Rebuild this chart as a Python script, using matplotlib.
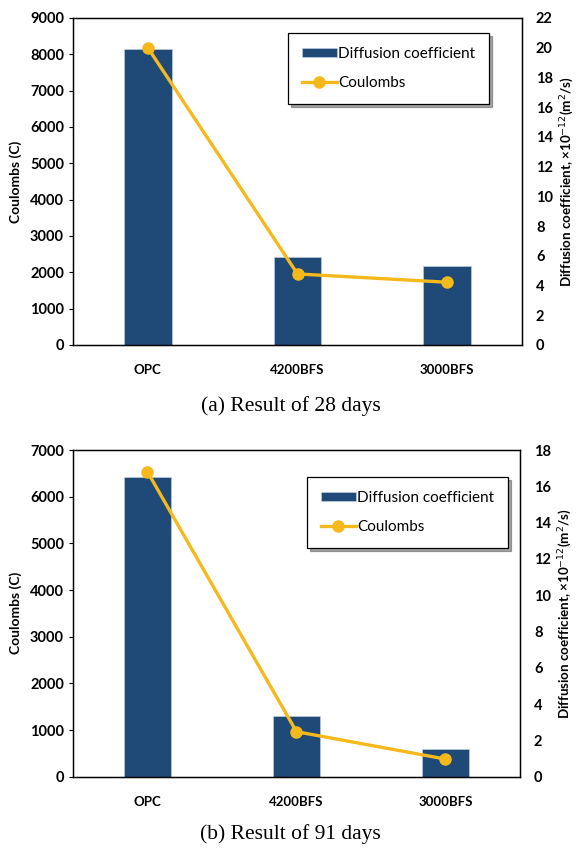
import matplotlib.pyplot as plt

plt.rcParams['font.family'] = ['Lato', 'DejaVu Sans']

categories = ['OPC', '4200BFS', '3000BFS']

# 28 days
bars_28 = [8140, 2430, 2180]
line_28 = [20.0, 4.78, 4.22]
# 91 days
bars_91 = [6430, 1290, 600]
line_91 = [16.8, 2.48, 0.97]

bar_color = '#1F4A78'
line_color = '#F5B91C'

fig = plt.figure(figsize=(5.81, 8.52), dpi=100)


def panel(rect, bars, line, ymax_l, ymax_r, leg_anchor, caption, cap_y):
    ax = fig.add_axes(rect)
    x = range(len(categories))
    b = ax.bar(x, bars, width=0.32, color=bar_color, edgecolor='#c8d4e4', linewidth=0.4,
               zorder=2, label='Diffusion coefficient')
    ax.set_xlim(-0.5, 2.5)
    ax.set_ylim(0, ymax_l)
    ax.set_yticks(range(0, ymax_l + 1, 1000))
    ax.set_xticks(list(x))
    ax.set_xticklabels(categories, fontweight='bold', fontsize=9.5)
    ax.tick_params(axis='x', length=0, pad=14)
    ax.tick_params(axis='y', length=3, width=0.8, labelsize=10.5, direction='out')
    for t in ax.get_yticklabels():
        t.set_fontweight('bold')
    ax.set_ylabel('Coulombs (C)', fontweight='bold', fontsize=10, labelpad=6)
    for s in ax.spines.values():
        s.set_linewidth(1.0)

    ax2 = ax.twinx()
    ln, = ax2.plot(x, line, color=line_color, lw=2.4, marker='o', ms=8,
                   zorder=3, label='Coulombs')
    ax2.set_ylim(0, ymax_r)
    ax2.set_yticks(range(0, ymax_r + 1, 2))
    ax2.tick_params(axis='y', length=0, labelsize=10.5, pad=10)
    for t in ax2.get_yticklabels():
        t.set_fontweight('bold')
    ax2.set_ylabel('Diffusion coefficient, ×10$^{-12}$(m$^2$/s)', fontweight='bold',
                   fontsize=9.6, labelpad=4)

    leg = ax2.legend([b, ln], ['Diffusion coefficient', 'Coulombs'], loc='upper left',
                     bbox_to_anchor=leg_anchor, borderaxespad=0, fancybox=False,
                     shadow=True, edgecolor='black', fontsize=11, handlelength=2.3,
                     handleheight=0.6, labelspacing=1.0, borderpad=0.9, handletextpad=0.1)
    leg.get_frame().set_linewidth(0.9)

    fig.text(0.5, cap_y, caption, ha='center', va='center', family='Liberation Serif',
             fontsize=15.5)


panel([0.1256, 0.5951, 0.7729, 0.3838], bars_28, line_28, 9000, 22,
      (0.479, 0.954), '(a) Result of 28 days', 0.523)
panel([0.1256, 0.0884, 0.7694, 0.3834], bars_91, line_91, 7000, 18,
      (0.523, 0.917), '(b) Result of 91 days', 0.021)

fig.savefig('out.png', dpi=100)
